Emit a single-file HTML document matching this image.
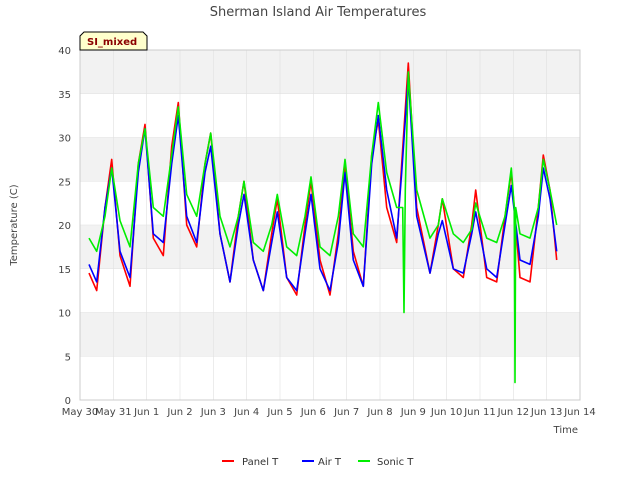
<!DOCTYPE html>
<html><head><meta charset="utf-8"><style>
body{margin:0;background:#fff;font-family:"Liberation Sans","DejaVu Sans",sans-serif;}
</style></head><body>
<svg id="chart" width="640" height="480" xmlns="http://www.w3.org/2000/svg" font-family="DejaVu Sans, Liberation Sans, sans-serif">
<rect width="640" height="480" fill="#fff"/>
<text x="318" y="16" text-anchor="middle" font-size="13" fill="#444">Sherman Island Air Temperatures</text>
<g id="plot"></g>
<text x="17" y="225" text-anchor="middle" font-size="10" fill="#444" transform="rotate(-90 17 225)">Temperature (C)</text>
<text x="578" y="433" text-anchor="end" font-size="10" fill="#444">Time</text>
<g>
<path d="M80,50 L80,36 L84,32 L143,32 L147,36 L147,50 Z" fill="#ffffcc" stroke="#000" stroke-width="1"/>
<text x="87" y="45" font-size="10" font-weight="bold" fill="#8b0000">SI_mixed</text>
</g>
<g>
<g><line x1="222" y1="461" x2="234" y2="461" stroke="#ff0000" stroke-width="2"/><text x="242" y="465" font-size="10" fill="#333">Panel T</text></g>
<g><line x1="302" y1="461" x2="314" y2="461" stroke="#0000ff" stroke-width="2"/><text x="318" y="465" font-size="10" fill="#333">Air T</text></g>
<g><line x1="358" y1="461" x2="370" y2="461" stroke="#00ee00" stroke-width="2"/><text x="377" y="465" font-size="10" fill="#333">Sonic T</text></g>
</g>
</svg>
<script>
const xTickLabels=["May 30","May 31","Jun 1","Jun 2","Jun 3","Jun 4","Jun 5","Jun 6","Jun 7","Jun 8","Jun 9","Jun 10","Jun 11","Jun 12","Jun 13","Jun 14"];
const yTicks=[0,5,10,15,20,25,30,35,40];
const times=[0.27,0.5,0.75,0.95,1.2,1.5,1.75,1.95,2.2,2.5,2.75,2.95,3.2,3.5,3.75,3.92,4.2,4.5,4.75,4.92,5.2,5.5,5.75,5.92,6.2,6.5,6.75,6.93,7.2,7.5,7.75,7.95,8.2,8.5,8.75,8.95,9.2,9.5,9.65,9.85,10.1,10.5,10.75,10.87,11.2,11.5,11.75,11.87,12.2,12.5,12.75,12.94,13.2,13.5,13.75,13.9,14.1,14.3];
const panelT=[14.5,12.5,22,27.5,16.5,13,27,31.5,18.5,16.5,29,34,20,17.5,27,30.5,19,13.5,21,25,16,12.5,19,23,14,12,20,25,16,12,19,27,17,13,28,32,22,18,27,38.5,22,14.5,20,23,15,14,20,24,14,13.5,21,26,14,13.5,22,28,24,16];
const airT=[15.5,13.5,22,26.5,17,14,26,31,19,18,27,32.5,21,18,26,29,19,13.5,20,23.5,16,12.5,18,21.5,14,12.5,19,23.5,15,12.5,18,26,16,13,27,32.5,24,18.5,26,37,21,14.5,19,20.5,15,14.5,19,21.5,15,14,20,24.5,16,15.5,21,26.5,23,17];
const sonicTimes=[0.27,0.5,0.75,0.95,1.2,1.5,1.75,1.95,2.2,2.5,2.75,2.95,3.2,3.5,3.75,3.92,4.2,4.5,4.75,4.92,5.2,5.5,5.75,5.92,6.2,6.5,6.75,6.93,7.2,7.5,7.75,7.95,8.2,8.5,8.75,8.95,9.2,9.5,9.68,9.72,9.76,9.85,10.1,10.5,10.75,10.87,11.2,11.5,11.75,11.87,12.2,12.5,12.75,12.94,13.03,13.05,13.07,13.2,13.5,13.75,13.9,14.1,14.3];
const sonicT=[18.5,17,21,26.5,20.5,17.5,27,31,22,21,28,33.5,23.5,21,27,30.5,21,17.5,21,25,18,17,20,23.5,17.5,16.5,21,25.5,17.5,16.5,21,27.5,19,17.5,28,34,26,22,22,10,24,37.5,24,18.5,20,23,19,18,19.5,22.5,18.5,18,21,26.5,22,2,22,19,18.5,22,27.5,24,20];

const NS="http://www.w3.org/2000/svg";
const L=80,R=580,T=50,B=400;
const X=d=>L+(R-L)*d/15;
const Y=v=>B-(B-T)*v/40;
const plot=document.getElementById('plot');
function mk(tag,attrs,parent){const e=document.createElementNS(NS,tag);for(const k in attrs)e.setAttribute(k,attrs[k]);(parent||plot).appendChild(e);return e;}
mk('rect',{x:L,y:T,width:R-L,height:B-T,fill:'#fff'});
for(let i=0;i<yTicks.length-1;i++){
  if(i%2===1){const b=mk('rect',{x:L,y:Y(yTicks[i+1]),width:R-L,height:Y(yTicks[i])-Y(yTicks[i+1]),fill:'#f2f2f2'});
  
  }
}
yTicks.forEach(v=>{
  const g=mk('line',{x1:L,x2:R,y1:Y(v),y2:Y(v),stroke:'#e0e0e0','stroke-width':0.6});
  
  
  const t=mk('text',{x:L-9,y:Y(v)+4,'text-anchor':'end','font-size':10,fill:'#444'});
  t.textContent=v;
  
  
});
xTickLabels.forEach((lab,i)=>{
  const g=mk('line',{x1:X(i),x2:X(i),y1:T,y2:B,stroke:'#e0e0e0','stroke-width':0.6});
  
  
  const t=mk('text',{x:X(i),y:B+15,'text-anchor':'middle','font-size':10,fill:'#444'});
  t.textContent=lab;
  
  
});
mk('rect',{x:L,y:T,width:R-L,height:B-T,fill:'none',stroke:'#ccc','stroke-width':1});
function line(ts,vs,color,name){
  const d=ts.map((t,i)=>(i?'L':'M')+X(t).toFixed(1)+','+Y(vs[i]).toFixed(1)).join(' ');
  const p=mk('path',{d:d,fill:'none',stroke:color,'stroke-width':1.6,'stroke-linejoin':'round'});
  
  
}
line(times,panelT,'#ff0000','panel-t-line');
line(times,airT,'#0000ff','air-t-line');
line(sonicTimes,sonicT,'#00ee00','sonic-t-line');
</script>
</body></html>
